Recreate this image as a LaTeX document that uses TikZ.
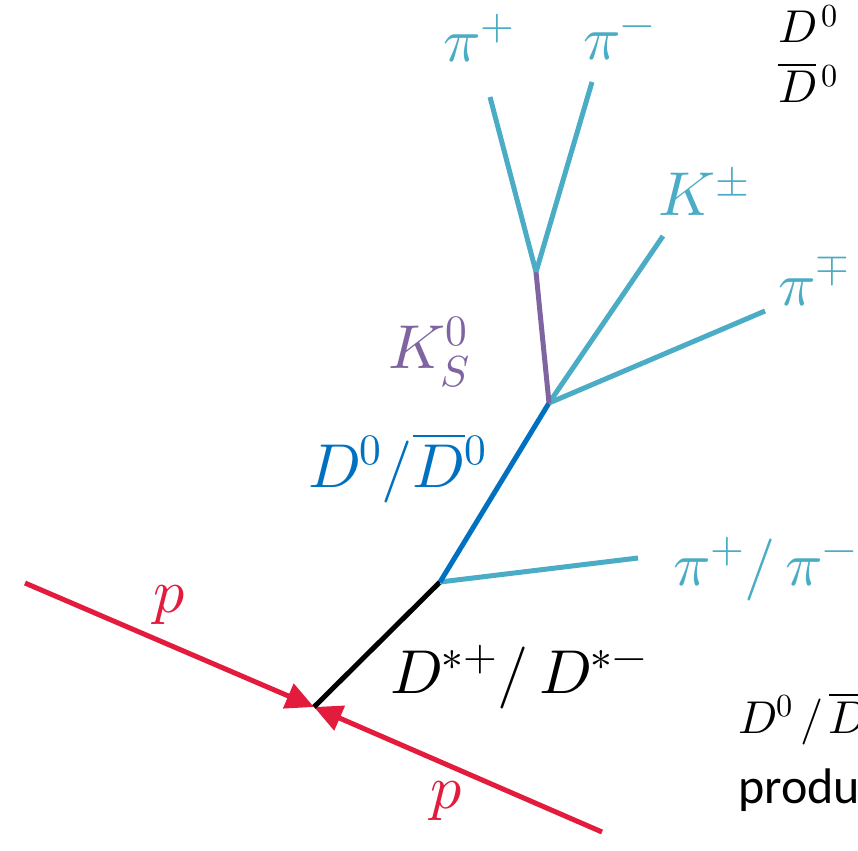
\documentclass[tikz,border=0pt]{standalone}
\usepackage{fontspec}
\usepackage{unicode-math}
\setmathfont{Latin Modern Math}
\newfontfamily\calib{Carlito}
\usetikzlibrary{arrows.meta}
\definecolor{pioncol}{HTML}{4BACC6}
\definecolor{dcol}{HTML}{0070C0}
\definecolor{kscol}{HTML}{8064A2}
\definecolor{pcol}{HTML}{E31B3C}
\begin{document}
\begin{tikzpicture}[x=1pt,y=-1pt,
  lbl/.style={font=\fontsize{62}{64}\selectfont, inner sep=0pt, anchor=base west},
  sidelbl/.style={font=\fontsize{46}{50}\selectfont, inner sep=0pt, anchor=base west},
  trk/.style={line width=5pt},
  parr/.style={trk, pcol, -{Triangle[length=28pt,width=26pt]}}]
\useasboundingbox (0,0) rectangle (858,850);
\clip (0,0) rectangle (858,850);
% vertices
\coordinate (pv) at (314,707);
\coordinate (dstar) at (440,582);
\coordinate (dvtx) at (549,403);
\coordinate (ksv) at (536,272);
% beam ends
\coordinate (p1) at (25,583);
\coordinate (p2) at (602,832);
% track ends
\coordinate (pisoft) at (638,558);
\coordinate (kend) at (663,236);
\coordinate (pimp) at (765,311);
\coordinate (pip) at (490,97);
\coordinate (pim) at (592,82);
% tracks
\draw[parr] (p1) -- (pv);
\draw[parr] (p2) -- (pv);
\draw[trk, black] (pv) -- (dstar);
\draw[trk, pioncol] (dstar) -- (pisoft);
\draw[trk, dcol] (dstar) -- (dvtx);
\draw[trk, pioncol] (dvtx) -- (kend);
\draw[trk, pioncol] (dvtx) -- (pimp);
\draw[trk, kscol] (dvtx) -- (ksv);
\draw[trk, pioncol] (ksv) -- (pip);
\draw[trk, pioncol] (ksv) -- (pim);
% labels
\node[lbl, pioncol] (lpip) at (443,62) {$\pi^+$};
\node[lbl, pioncol] (lpim) at (583,60) {$\pi^-$};
\node[lbl, pioncol] (lk) at (658,215) {$K^\pm$};
\node[lbl, pioncol] (lpimp) at (778,305) {$\pi^\mp$};
\node[lbl, kscol] (lks) at (388,368) {$K_S^0$};
\node[lbl, dcol] (ld) at (308,487) {$D^0/\overline{D}{}^0$};
\node[lbl, pioncol] (lpis) at (673,585) {$\pi^+/\,\pi^-$};
\node[lbl, pcol] (lp1) at (153,612) {$p$};
\node[lbl, pcol] (lp2) at (430,808) {$p$};
\node[lbl, black] (ldst) at (390,693) {$D^{*+}/\,D^{*-}$};
% side texts (cut by the picture edge)
\node[sidelbl] (s1) at (778,43) {$D^{\,0}$};
\node[sidelbl] (s2) at (778,103) {$\overline{D}{}^{\,0}$};
\node[sidelbl] (s3) at (738,733) {$D^{0}\mkern3mu/\mkern2mu\overline{D}{}^{0}$};
\node[sidelbl, font=\calib\fontsize{50}{54}\selectfont] (s4) at (738,803) {produ};
\end{tikzpicture}
\end{document}
